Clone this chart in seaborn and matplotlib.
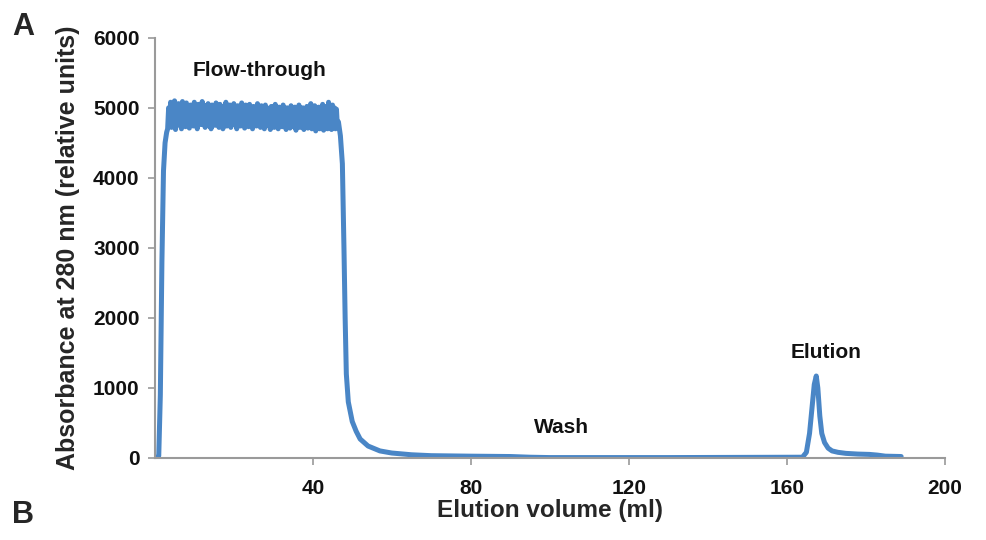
import numpy as np
import pandas as pd
import matplotlib
matplotlib.use("Agg")
import matplotlib.pyplot as plt
import seaborn as sns

# ---- data ----
rise_vol = [0.3, 1.0, 1.4, 1.8, 2.2, 2.6, 3.0]
rise_abs = [0, 30, 900, 2800, 4100, 4500, 4650]

plateau_abs = [4700, 5000, 4760, 5080, 4720, 4980, 4800, 5100, 4690, 5020,
               4750, 5060, 4820, 4990, 4700, 5090, 4780, 5010, 4730, 5070,
               4850, 4960, 4710, 5040, 4790, 5000, 4740, 5080, 4820, 4970,
               4700, 5050, 4780, 5010, 4760, 5090, 4830, 4950, 4720, 5030,
               4800, 5060, 4740, 4990, 4700, 5040, 4860, 4980, 4750, 5070,
               4790, 5000, 4720, 5050, 4830, 4960, 4700, 5020, 4780, 5080,
               4740, 4990, 4810, 5040, 4720, 4970, 4850, 5060, 4760, 5010,
               4700, 5030, 4790, 4980, 4740, 5070, 4820, 5000, 4710, 5040,
               4780, 4960, 4730, 5050, 4840, 5000, 4700, 5020, 4770, 4980,
               4740, 5060, 4810, 4990, 4720, 5030, 4790, 4970, 4700, 5040,
               4830, 5000, 4750, 4960, 4690, 5020, 4780, 4990, 4720, 5050,
               4800, 4970, 4700, 5010, 4760, 4980, 4730, 5040, 4820, 4960,
               4690, 5000, 4770, 4980, 4710, 5030, 4790, 4950, 4730, 5010,
               4680, 4990, 4760, 5040, 4720, 4970, 4800, 5000, 4690, 4960,
               4750, 5020, 4710, 4980, 4780, 5060, 4700, 4990, 4740, 5030,
               4670, 4970, 4760, 5010, 4700, 4990, 4730, 5050, 4680, 4980,
               4750, 5020, 4700, 5080, 4720, 4960, 4690, 5040, 4740, 5000,
               4700, 4980, 4720]
plateau_start = 3.25
plateau_step = 0.25

tail_vol = [46.5, 47.0, 47.5, 47.9, 48.2, 48.5, 49.0, 50.0, 51.0, 52.0, 54.0,
            57.0, 60.0, 65.0, 70.0, 80.0, 90.0, 95.0, 100.0, 130.0, 164.0,
            165.0, 165.8, 166.4, 167.0, 167.5, 167.9, 168.4, 168.9, 169.6,
            170.5, 171.5, 173.0, 175.0, 178.0, 181.0, 183.0, 185.0, 189.0]
tail_abs = [4800, 4600, 4200, 3000, 2000, 1200, 800, 520, 380, 270, 170,
            100, 70, 45, 32, 25, 20, 10, 5, 5, 10,
            80, 350, 700, 1050, 1170, 1000, 600, 350, 220,
            140, 100, 80, 65, 55, 50, 40, 25, 20]

x_ticks = [40, 80, 120, 160, 200]
y_ticks = [0, 1000, 2000, 3000, 4000, 5000, 6000]

annotations = [("Flow-through", 26.5, 5530), ("Wash", 103, 430), ("Elution", 170, 1500)]

# ---- assemble ----
plateau_vol = list(plateau_start + plateau_step * np.arange(len(plateau_abs)))
vol = rise_vol + plateau_vol + tail_vol
absb = rise_abs + plateau_abs + tail_abs
df = pd.DataFrame({"vol": vol, "abs": absb})

sns.set_theme(style="ticks")
plt.rcParams["font.family"] = ["Liberation Sans", "DejaVu Sans"]
plt.rcParams["font.weight"] = "bold"

fig = plt.figure(figsize=(9.86, 5.4), dpi=100)
ax = fig.add_axes([0.157, 0.152, 0.801, 0.778])

sns.lineplot(data=df, x="vol", y="abs", ax=ax, color="#4a86c6", linewidth=3.6,
             sort=False, estimator=None)

ax.set_xlim(0, 200)
ax.set_ylim(0, 6000)
ax.set_xticks(x_ticks)
ax.set_yticks(y_ticks)
ax.set_xticklabels([str(t) for t in x_ticks], fontsize=15, fontweight="bold")
ax.set_yticklabels([str(t) for t in y_ticks], fontsize=15, fontweight="bold")
ax.set_xlabel("Elution volume (ml)", fontsize=17.5, fontweight="bold", labelpad=1)
ax.set_ylabel("Absorbance at 280 nm (relative units)", fontsize=18,
              fontweight="bold", labelpad=9)

for side in ["top", "right"]:
    ax.spines[side].set_visible(False)
for side in ["left", "bottom"]:
    ax.spines[side].set_color("#9a9a9a")
    ax.spines[side].set_linewidth(1.5)
ax.tick_params(axis="both", colors="#9a9a9a", length=5, width=1.2,
               labelcolor="#111111")
ax.tick_params(axis="x", pad=10)
ax.tick_params(axis="y", pad=6)

for text, xv, yv in annotations:
    ax.text(xv, yv, text, ha="center", va="center", fontsize=15,
            fontweight="bold", color="#111111")

fig.text(0.012, 0.95, "A", fontsize=22, fontweight="bold", ha="left", va="center")
fig.text(0.012, 0.046, "B", fontsize=22, fontweight="bold", ha="left", va="center")

fig.savefig("out.png", dpi=100)
